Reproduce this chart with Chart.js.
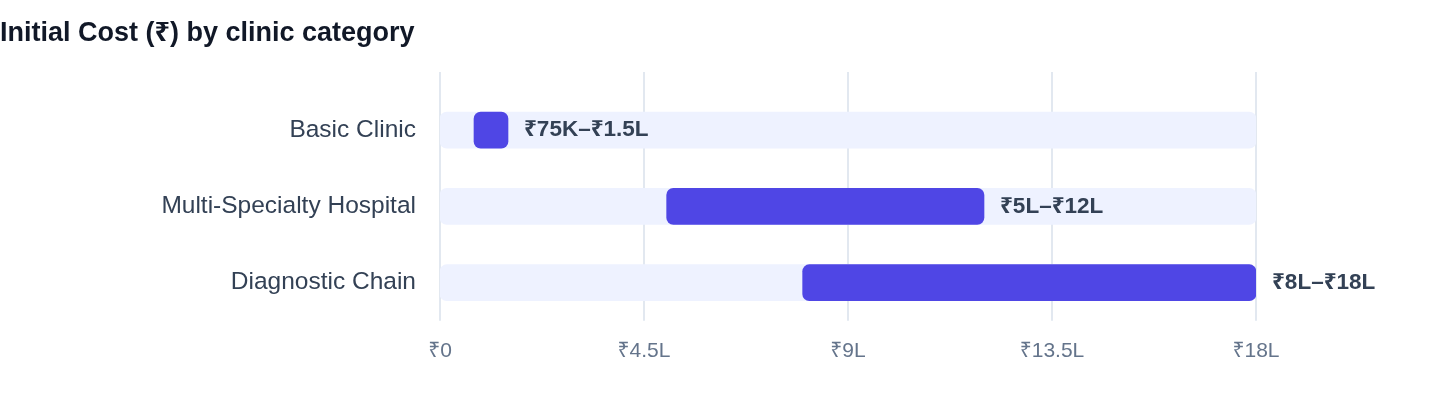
<!DOCTYPE html>
<html>
<head>
<meta charset="utf-8">
<title>Initial Cost by clinic category</title>
<script src="https://cdn.jsdelivr.net/npm/chart.js@4.4.1/dist/chart.umd.min.js"></script>
<style>
    html, body { margin: 0; padding: 0; background: #fff; }
    #wrap { position: relative; width: 1440px; height: 408px; }
</style>
</head>
<body>
<div id="wrap"><canvas id="costChart"></canvas></div>
<script>
'use strict';

// values in lakh (₹)
const categories = ['Basic Clinic', 'Multi-Specialty Hospital', 'Diagnostic Chain'];
const costLow = [0.75, 5, 8];
const costHigh = [1.5, 12, 18];
const rangeLabels = ['₹75K–₹1.5L', '₹5L–₹12L', '₹8L–₹18L'];
const tickValues = [0, 4.5, 9, 13.5, 18];
const tickLabels = ['₹0', '₹4.5L', '₹9L', '₹13.5L', '₹18L'];
const axisMax = 18;

const fontFamily = "'Liberation Sans', Arial, 'Noto Sans', sans-serif";
Chart.defaults.font.family = fontFamily;

// grid lines that reach a bit above the bars
const tallGrid = {
    id: 'tallGrid',
    beforeDatasetsDraw(chart) {
        const { ctx, chartArea, scales } = chart;
        ctx.save();
        ctx.strokeStyle = '#e2e8f0';
        ctx.lineWidth = 2;
        scales.x.ticks.forEach((t) => {
            const x = Math.round(scales.x.getPixelForValue(t.value));
            ctx.beginPath();
            ctx.moveTo(x, chartArea.top - 20);
            ctx.lineTo(x, chartArea.bottom);
            ctx.stroke();
        });
        ctx.restore();
    },
};

// text to the right of each range bar
const rangeText = {
    id: 'rangeText',
    afterDatasetsDraw(chart) {
        const { ctx, scales } = chart;
        const meta = chart.getDatasetMeta(0);
        ctx.save();
        ctx.font = 'bold 22.5px ' + fontFamily;
        ctx.fillStyle = '#334155';
        ctx.textBaseline = 'middle';
        meta.data.forEach((bar, i) => {
            const x = scales.x.getPixelForValue(costHigh[i]) + 16;
            ctx.fillText(rangeLabels[i], x, bar.y);
        });
        ctx.restore();
    },
};

new Chart(document.getElementById('costChart'), {
    type: 'bar',
    data: {
        labels: categories,
        datasets: [
            {
                label: 'Initial Cost',
                data: categories.map((c, i) => [costLow[i], costHigh[i]]),
                backgroundColor: '#4f46e5',
                borderRadius: 7,
                borderSkipped: false,
                barThickness: 36,
                grouped: false,
            },
            {
                label: 'Track',
                data: categories.map(() => [0, axisMax]),
                backgroundColor: '#eef2ff',
                borderRadius: 7,
                borderSkipped: false,
                barThickness: 36,
                grouped: false,
            },
        ],
    },
    options: {
        indexAxis: 'y',
        responsive: true,
        maintainAspectRatio: false,
        animation: false,
        layout: {
            padding: { top: 0, left: 0, right: 184, bottom: 26 },
        },
        scales: {
            x: {
                min: 0,
                max: axisMax,
                grid: { display: false, drawTicks: false },
                border: { display: false },
                afterBuildTicks: (scale) => {
                    scale.ticks = tickValues.map((v) => ({ value: v }));
                },
                ticks: {
                    padding: 18,
                    color: '#64748b',
                    font: { size: 21 },
                    callback: (value) => tickLabels[tickValues.indexOf(value)],
                },
            },
            y: {
                grid: { display: false, drawTicks: false },
                border: { display: false },
                afterFit: (scale) => {
                    scale.width = 440;
                },
                ticks: {
                    padding: 24,
                    color: '#334155',
                    font: { size: 24.5 },
                },
            },
        },
        plugins: {
            legend: { display: false },
            tooltip: { enabled: false },
            title: {
                display: true,
                text: 'Initial Cost (₹) by clinic category',
                align: 'start',
                color: '#111827',
                font: { size: 27, weight: 'bold' },
                padding: { top: 17, bottom: 42.6 },
            },
        },
    },
    plugins: [tallGrid, rangeText],
});
</script>
</body>
</html>
